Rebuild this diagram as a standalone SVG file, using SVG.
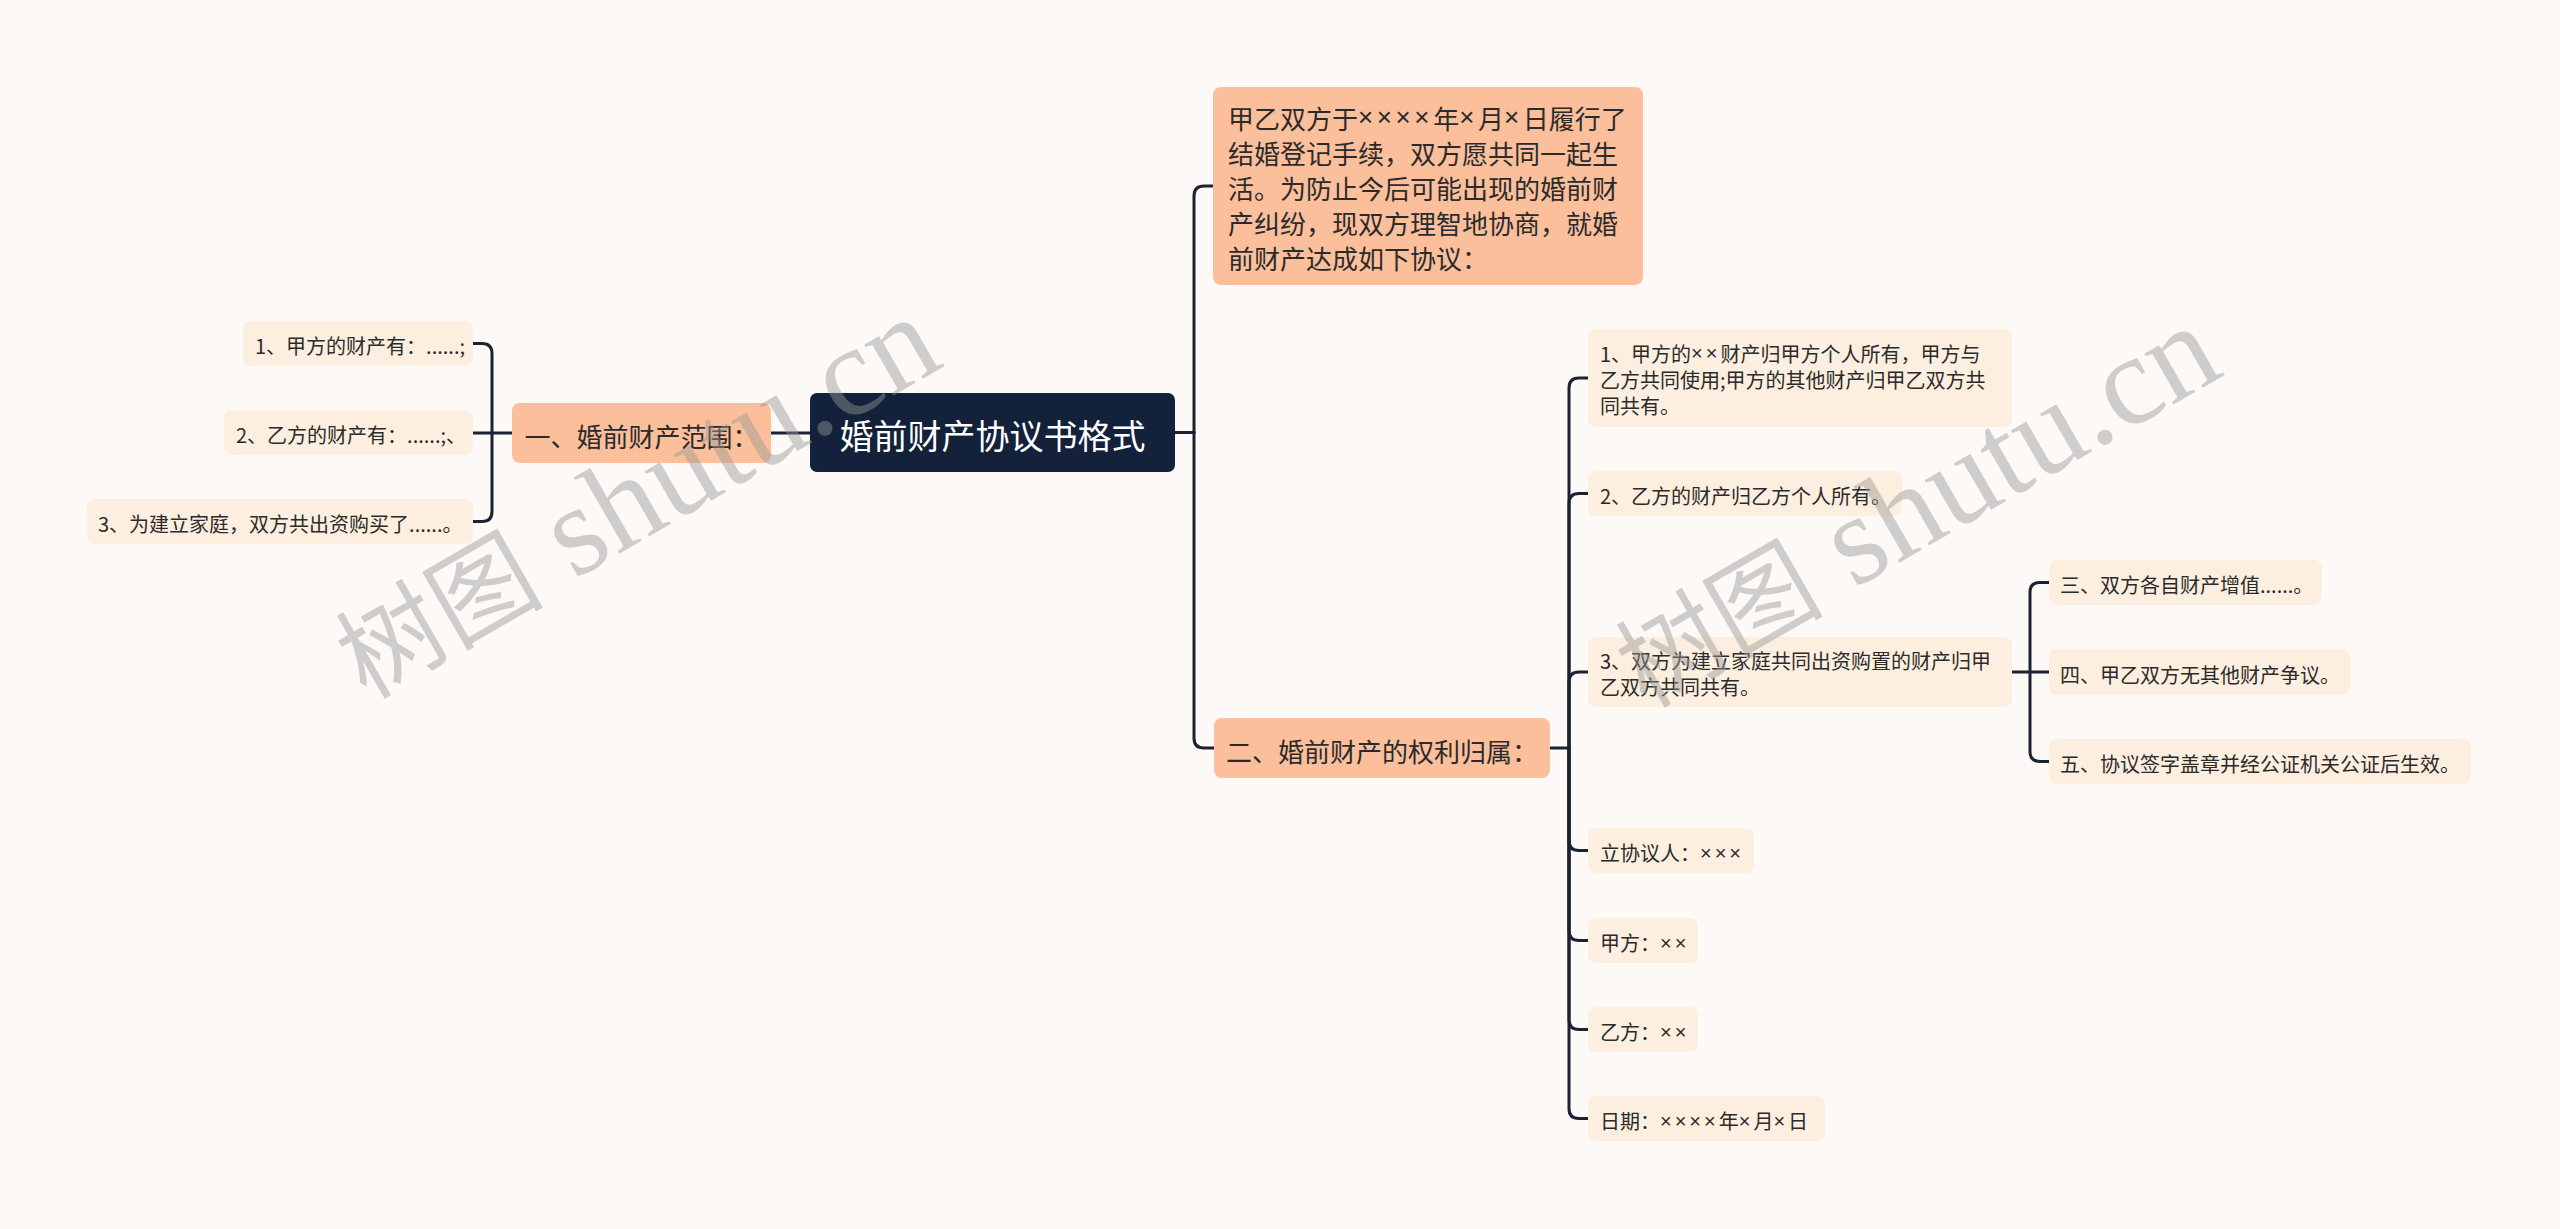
<svg xmlns="http://www.w3.org/2000/svg" width="2560" height="1229" viewBox="0 0 2560 1229">
<style>
text{font-family:"Noto Sans CJK SC","Noto Sans",sans-serif;fill:#2b2b2b;dominant-baseline:central}
.x{font-family:"Liberation Sans",sans-serif}
.leaf rect{fill:#fdefdf}
.leaf text{font-size:20px}
.leaf .x{letter-spacing:3px}
.l1 rect{fill:#fbbf9c}
.l1 text{font-size:26px}
.l1 .x{letter-spacing:3.6px}
.root rect{fill:#13213b}
.root text{font-size:34px;fill:#ffffff}
.links path{fill:none;stroke:#1a2233;stroke-width:3;stroke-linecap:round}
.wm{font-family:"Liberation Serif","Noto Sans CJK SC",serif;font-size:104px;fill:#969696;fill-opacity:0.45;dominant-baseline:alphabetic}
.wm tspan{font-size:128px}
</style>
<rect x="0" y="0" width="2560" height="1229" fill="#fdf9f7"/>
<g class="links" id="connectors">
<path d="M810,433 H771"/>
<path d="M512,433 H473"/>
<path d="M492,433 V353.5 Q492,343.5 482,343.5 H473"/>
<path d="M492,433 V511.5 Q492,521.5 482,521.5 H473"/>
<path d="M1175,432.5 H1194"/>
<path d="M1194,432.5 V196 Q1194,186 1204,186 H1213"/>
<path d="M1194,432.5 V738 Q1194,748 1204,748 H1214"/>
<path d="M1550,748 H1569"/>
<path d="M1569,748 V388 Q1569,378 1579,378 H1588"/>
<path d="M1569,748 V503.5 Q1569,493.5 1579,493.5 H1588"/>
<path d="M1569,748 V682 Q1569,672 1579,672 H1588"/>
<path d="M1569,748 V840.5 Q1569,850.5 1579,850.5 H1588"/>
<path d="M1569,748 V930.5 Q1569,940.5 1579,940.5 H1588"/>
<path d="M1569,748 V1019.5 Q1569,1029.5 1579,1029.5 H1588"/>
<path d="M1569,748 V1108.5 Q1569,1118.5 1579,1118.5 H1588"/>
<path d="M2012,672 H2049"/>
<path d="M2030,672 V592.5 Q2030,582.5 2040,582.5 H2049"/>
<path d="M2030,672 V751.5 Q2030,761.5 2040,761.5 H2049"/>
</g>
<g class="root" id="root"><rect x="810" y="393" width="365" height="79" rx="7"/><text x="992.5" y="434" text-anchor="middle">婚前财产协议书格式</text></g>
<g class="l1" id="n-range"><rect x="512" y="403" width="259" height="60" rx="8"/><text x="641.5" y="435" text-anchor="middle">一、婚前财产范围：</text></g>
<g class="leaf" id="n-range-1"><rect x="243" y="321" width="230" height="45" rx="8"/><text x="255" y="345.5">1、甲方的财产有：......;</text></g>
<g class="leaf" id="n-range-2"><rect x="224" y="410" width="249" height="45" rx="8"/><text x="236" y="434.5">2、乙方的财产有：......;、</text></g>
<g class="leaf" id="n-range-3"><rect x="87" y="499" width="386" height="45" rx="8"/><text x="98" y="523.5">3、为建立家庭，双方共出资购买了......。</text></g>
<g class="l1" id="n-intro"><rect x="1213" y="87" width="430" height="198" rx="8"/>
<text x="1228" y="117">甲乙双方于<tspan class="x">××××</tspan>年<tspan class="x">×</tspan>月<tspan class="x">×</tspan>日履行了</text>
<text x="1228" y="152">结婚登记手续，双方愿共同一起生</text>
<text x="1228" y="187">活。为防止今后可能出现的婚前财</text>
<text x="1228" y="222">产纠纷，现双方理智地协商，就婚</text>
<text x="1228" y="257">前财产达成如下协议：</text></g>
<g class="l1" id="n-rights"><rect x="1214" y="718" width="336" height="60" rx="8"/><text x="1382" y="750" text-anchor="middle">二、婚前财产的权利归属：</text></g>
<g class="leaf" id="n-r1"><rect x="1588" y="329" width="424" height="98" rx="8"/>
<text x="1600" y="353">1、甲方的<tspan class="x">××</tspan>财产归甲方个人所有，甲方与</text>
<text x="1600" y="379">乙方共同使用;甲方的其他财产归甲乙双方共</text>
<text x="1600" y="405">同共有。</text></g>
<g class="leaf" id="n-r2"><rect x="1588" y="471" width="314" height="45" rx="8"/><text x="1600" y="495.5">2、乙方的财产归乙方个人所有。</text></g>
<g class="leaf" id="n-r3"><rect x="1588" y="637" width="424" height="70" rx="8"/>
<text x="1600" y="660">3、双方为建立家庭共同出资购置的财产归甲</text>
<text x="1600" y="686">乙双方共同共有。</text></g>
<g class="leaf" id="n-g1"><rect x="2049" y="560" width="273" height="45" rx="8"/><text x="2060" y="584.5">三、双方各自财产增值......。</text></g>
<g class="leaf" id="n-g2"><rect x="2049" y="649" width="301" height="46" rx="8"/><text x="2060" y="674">四、甲乙双方无其他财产争议。</text></g>
<g class="leaf" id="n-g3"><rect x="2049" y="739" width="422" height="45" rx="8"/><text x="2060" y="763.5">五、协议签字盖章并经公证机关公证后生效。</text></g>
<g class="leaf" id="n-r4"><rect x="1588" y="828" width="166" height="45" rx="8"/><text x="1600" y="852.5">立协议人：<tspan class="x">×××</tspan></text></g>
<g class="leaf" id="n-r5"><rect x="1588" y="918" width="110" height="45" rx="8"/><text x="1600" y="942.5">甲方：<tspan class="x">××</tspan></text></g>
<g class="leaf" id="n-r6"><rect x="1588" y="1007" width="110" height="45" rx="8"/><text x="1600" y="1031.5">乙方：<tspan class="x">××</tspan></text></g>
<g class="leaf" id="n-r7"><rect x="1588" y="1096" width="237" height="45" rx="8"/><text x="1600" y="1120.5">日期：<tspan class="x">××××</tspan>年<tspan class="x">×</tspan>月<tspan class="x">×</tspan>日</text></g>
<g id="watermark">
<text class="wm" x="366" y="700" transform="rotate(-30 366 700)">树图<tspan> shutu.cn</tspan></text>
<text class="wm" x="1646" y="709" transform="rotate(-30 1646 709)">树图<tspan> shutu.cn</tspan></text>
</g>
</svg>
